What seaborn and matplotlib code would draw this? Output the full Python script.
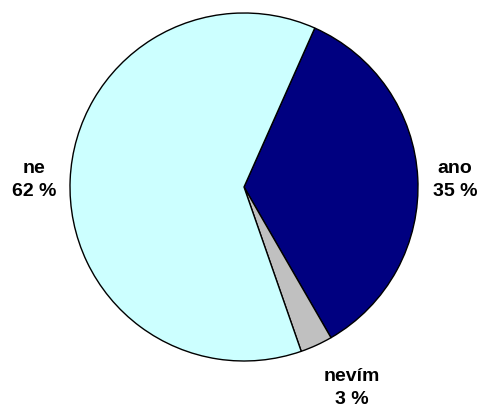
import matplotlib
matplotlib.use("Agg")
import matplotlib.pyplot as plt
import seaborn as sns

sns.set_theme(style="white")
plt.rcParams["font.family"] = ["Liberation Sans", "DejaVu Sans"]

# answers and their shares (%)
answers = ["ano", "nevím", "ne"]
shares = [35, 3, 62]
colors = ["#000080", "#C0C0C0", "#CCFFFF"]

# label anchor points in pixel space (x, y from top)
label_pos = [(455, 180), (352, 388), (34, 180)]

W, H = 483, 409
fig = plt.figure(figsize=(W / 100, H / 100), dpi=100)
ax = fig.add_axes([0, 0, 1, 1])

ax.pie(shares, colors=colors, startangle=66, counterclock=False,
       center=(244, H - 187), radius=174, frame=True,
       wedgeprops=dict(edgecolor="black", linewidth=1))
ax.set_xlim(0, W)
ax.set_ylim(0, H)
ax.set_aspect("equal")
ax.axis("off")

for name, val, (x, y) in zip(answers, shares, label_pos):
    ax.text(x, H - y, f"{name}\n{val} %", ha="center", va="center",
            fontsize=14, fontweight="bold", linespacing=1.45, color="black")

fig.savefig("out.png", dpi=100)
